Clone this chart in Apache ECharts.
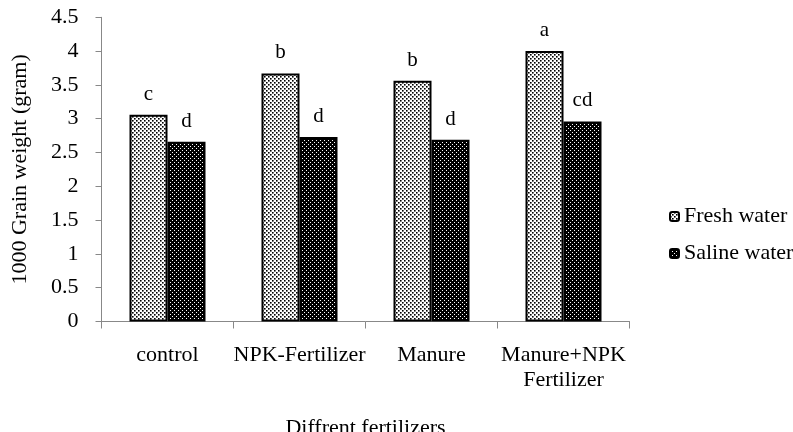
<!DOCTYPE html>
<html>
<head>
<meta charset="utf-8">
<script src="https://cdn.jsdelivr.net/npm/echarts@6/dist/echarts.min.js"></script>
<style>html,body{margin:0;padding:0;background:#fff;overflow:hidden}#c{width:793px;height:432px}</style>
</head>
<body>
<div id="c"></div>
<script>
var categories = ['control', 'NPK-Fertilizer', 'Manure', 'Manure+NPK\nFertilizer'];
var freshWater = [3.06, 3.67, 3.56, 4.00];
var salineWater = [2.66, 2.73, 2.69, 2.96];
var freshLetters = ['c', 'b', 'b', 'a'];
var salineLetters = ['d', 'd', 'd', 'cd'];
var yTicks = { min: 0, max: 4.5, interval: 0.5 };

function makePattern(bg, fg, size, dot) {
  var c = document.createElement('canvas');
  c.width = size; c.height = size;
  var g = c.getContext('2d');
  g.fillStyle = bg; g.fillRect(0, 0, size, size);
  g.fillStyle = fg;
  g.fillRect(0, 0, dot, dot);
  g.fillRect(size / 2, size / 2, dot, dot);
  return c;
}
var freshPat = { image: makePattern('#ffffff', '#000000', 4, 1.6), repeat: 'repeat' };
var salinePat = { image: makePattern('#000000', '#ffffff', 4, 1), repeat: 'repeat' };

var font = 'Liberation Serif';
var el = document.getElementById('c');
var chart = echarts.init(el, null, { width: 793, height: 432 });
chart.setOption({
  animation: false,
  textStyle: { fontFamily: font },
  grid: { left: 101.5, right: 163.5, top: 17.3, bottom: 110.5, containLabel: false, outerBoundsMode: 'none' },
  legend: {
    orient: 'vertical', left: 664, top: 199, itemWidth: 9, itemHeight: 9, itemGap: 12,
    textStyle: { fontFamily: font, fontSize: 22, color: '#000', lineHeight: 25 },
    data: ['Fresh water', 'Saline water']
  },
  xAxis: {
    type: 'category', data: categories,
    name: 'Diffrent fertilizers', nameLocation: 'middle', nameGap: 96,
    nameTextStyle: { fontFamily: font, fontSize: 22, color: '#000', verticalAlign: 'top' },
    axisLine: { lineStyle: { color: '#888', width: 1 } },
    axisTick: { show: true, length: 7, lineStyle: { color: '#888' } },
    axisLabel: { margin: 21, fontFamily: font, fontSize: 22, color: '#000', lineHeight: 25, interval: 0 }
  },
  yAxis: {
    type: 'value', min: yTicks.min, max: yTicks.max, interval: yTicks.interval,
    name: '1000 Grain weight (gram)', nameLocation: 'middle', nameGap: 70,
    nameTextStyle: { fontFamily: font, fontSize: 22, color: '#000' },
    axisLine: { show: true, lineStyle: { color: '#888', width: 1 } },
    axisTick: { show: true, length: 6, lineStyle: { color: '#888' } },
    splitLine: { show: false },
    axisLabel: { margin: 23, fontFamily: font, fontSize: 22, color: '#000' }
  },
  series: [
    {
      name: 'Fresh water', type: 'bar', data: freshWater,
      barWidth: 38, barGap: '0%',
      itemStyle: { color: freshPat, borderColor: '#000', borderWidth: 2 },
      label: { show: true, position: 'top', distance: 10, fontFamily: font, fontSize: 21, color: '#000',
        formatter: function (p) { return freshLetters[p.dataIndex]; } }
    },
    {
      name: 'Saline water', type: 'bar', data: salineWater,
      barWidth: 38, barGap: '0%',
      itemStyle: { color: salinePat, borderColor: '#000', borderWidth: 2 },
      label: { show: true, position: 'top', distance: 10, fontFamily: font, fontSize: 21, color: '#000',
        formatter: function (p) { return salineLetters[p.dataIndex]; } }
    }
  ]
});
</script>
</body>
</html>
